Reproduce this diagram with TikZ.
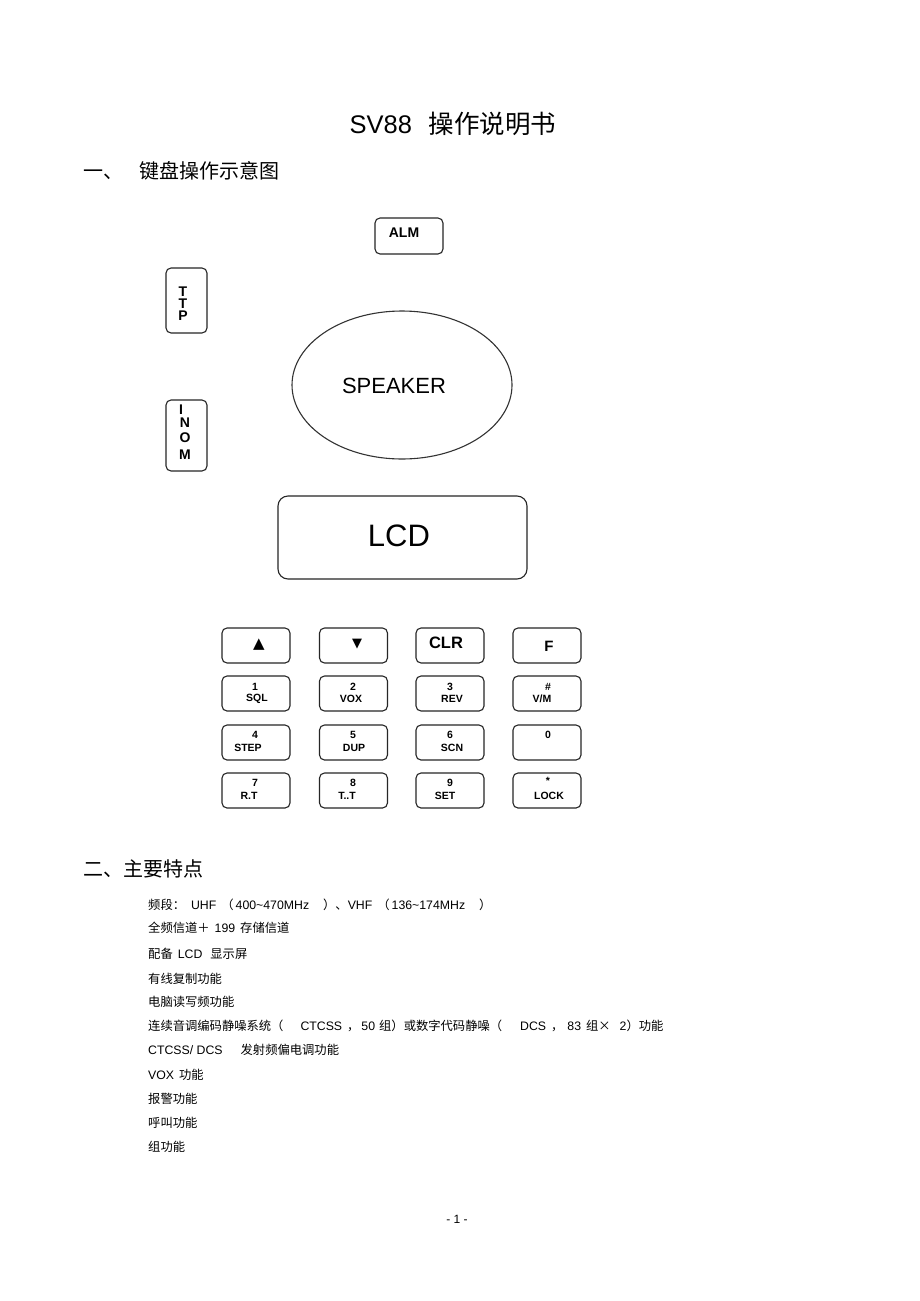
\documentclass[tikz,border=0pt]{standalone}
\usepackage{fontspec}
\setmainfont{Liberation Sans}
\newfontfamily\cjk{Noto Sans CJK SC}
\newfontfamily\symf{DejaVu Sans}
\newcommand\zh[1]{{\cjk #1}}
\newcommand\fs[1]{\fontsize{#1}{#1}\selectfont}
\usetikzlibrary{shapes.geometric}
\begin{document}
\begin{tikzpicture}[x=1pt,y=-1pt,
  box/.style={draw=black!85, line width=1.1pt, rounded corners=5pt, inner sep=0pt},
  txt/.style={inner sep=0pt, anchor=center},
  klab/.style={inner sep=0pt, anchor=center, font=\fs{10.5}\bfseries},
  item/.style={inner sep=0pt, anchor=west, font=\fs{12.3}}]
\useasboundingbox[fill=white] (0,0) rectangle (920,1301);

% headings
\node[txt, font=\fs{25.5}] (title) at (453,124) {SV88\hspace{17pt}\zh{操作说明书}};
\node[inner sep=0pt, anchor=west, font=\fs{20}] (h1) at (83,171) {\zh{一、}\hspace{16pt}\zh{键盘操作示意图}};

% top controls
\node[box, minimum width=68pt, minimum height=36pt] (alm) at (409,236) {};
\node[txt, font=\fs{14}\bfseries] (almt) at (404,233) {ALM};
\node[box, minimum width=41pt, minimum height=65pt] (ttp) at (186.5,300.5) {};
\node[txt, font=\fs{14}\bfseries] (ttp1) at (183,292) {T};
\node[txt, font=\fs{14}\bfseries] (ttp2) at (183,304) {T};
\node[txt, font=\fs{14}\bfseries] (ttp3) at (183,316) {P};
\node[box, minimum width=41pt, minimum height=71pt] (inom) at (186.5,435.5) {};
\node[txt, font=\fs{14}\bfseries] (inom1) at (181,410) {I};
\node[txt, font=\fs{14}\bfseries] (inom2) at (185,423) {N};
\node[txt, font=\fs{14}\bfseries] (inom3) at (185,438) {O};
\node[txt, font=\fs{14}\bfseries] (inom4) at (185,455) {M};

% speaker
\node[draw=black!80, line width=1.1pt, ellipse, minimum width=220pt, minimum height=148pt, inner sep=0pt] (spk) at (402,385) {};
\node[txt, font=\fs{22}] (spkt) at (394,386) {SPEAKER};

% LCD
\node[draw=black!85, line width=1.1pt, rounded corners=10pt, minimum width=249pt, minimum height=83pt, inner sep=0pt] (lcd) at (402.5,537.5) {};
\node[txt, font=\fs{31}] (lcdt) at (399,536) {LCD};

% keypad boxes
\foreach \c/\x in {1/256,2/353.5,3/450,4/547}{
  \foreach \r/\y in {1/645.5,2/693.5,3/742.5,4/790.5}{
    \node[box, minimum width=68pt, minimum height=35pt] (k\r\c) at (\x,\y) {};
  }
}
% row 1
\node[txt, font=\symf\fs{15}] (up) at (259,645) {▲};
\node[txt, font=\symf\fs{13}] (down) at (357,644) {▼};
\node[txt, font=\fs{16.5}\bfseries] (clr) at (446,643) {CLR};
\node[txt, font=\fs{15}\bfseries] (f) at (549,646) {F};
% row 2
\node[klab] (n1) at (255,687) {1};   \node[klab] (l1) at (257,699) {SQL};
\node[klab] (n2) at (353,687) {2};   \node[klab] (l2) at (351,699) {VOX};
\node[klab] (n3) at (450,687) {3};   \node[klab] (l3) at (452,699) {REV};
\node[klab] (n4) at (548,687) {\#};  \node[klab] (l4) at (542,699) {V/M};
% row 3
\node[klab] (n5) at (255,735) {4};   \node[klab] (l5) at (248,748) {STEP};
\node[klab] (n6) at (353,735) {5};   \node[klab] (l6) at (354,748) {DUP};
\node[klab] (n7) at (450,735) {6};   \node[klab] (l7) at (452,748) {SCN};
\node[klab] (n8) at (548,735) {0};
% row 4
\node[klab] (n9) at (255,783) {7};   \node[klab] (l9) at (249,796) {R.T};
\node[klab] (n10) at (353,783) {8};  \node[klab] (l10) at (347,796) {T..T};
\node[klab] (n11) at (450,783) {9};  \node[klab] (l11) at (445,796) {SET};
\node[klab] (n12) at (548,781) {*};  \node[klab] (l12) at (549,796) {LOCK};

% section 2
\node[inner sep=0pt, anchor=west, font=\fs{20}] (h2) at (83,869) {\zh{二、主要特点}};
\node[item] (i1) at (148,905) {\zh{频段：}\hspace{6pt}UHF\hspace{5pt}\zh{（}\hspace{2pt}400\textasciitilde470MHz\hspace{14pt}\zh{）、}VHF\hspace{5pt}\zh{（}\hspace{2pt}136\textasciitilde174MHz\hspace{14pt}\zh{）}};
\node[item] (i2) at (148,928) {\zh{全频信道＋}\hspace{5pt}199\hspace{5pt}\zh{存储信道}};
\node[item] (i3) at (148,954) {\zh{配备}\hspace{5pt}LCD\hspace{8pt}\zh{显示屏}};
\node[item] (i4) at (148,979) {\zh{有线复制功能}};
\node[item] (i5) at (148,1002) {\zh{电脑读写频功能}};
\node[item] (i6) at (148,1026) {\zh{连续音调编码静噪系统（}\hspace{17pt}CTCSS\hspace{5pt}\zh{，}\hspace{2pt}50\hspace{4pt}\zh{组）或数字代码静噪（}\hspace{18pt}DCS\hspace{5pt}\zh{，}\hspace{4pt}83\hspace{5pt}\zh{组×}\hspace{9pt}2\zh{）功能}};
\node[item] (i7) at (148,1050) {CTCSS/ DCS\hspace{18pt}\zh{发射频偏电调功能}};
\node[item] (i8) at (148,1075) {VOX\hspace{5pt}\zh{功能}};
\node[item] (i9) at (148,1099) {\zh{报警功能}};
\node[item] (i10) at (148,1123) {\zh{呼叫功能}};
\node[item] (i11) at (148,1147) {\zh{组功能}};

\node[txt, font=\fs{12}] (page) at (457,1219) {- 1 -};
\end{tikzpicture}
\end{document}
